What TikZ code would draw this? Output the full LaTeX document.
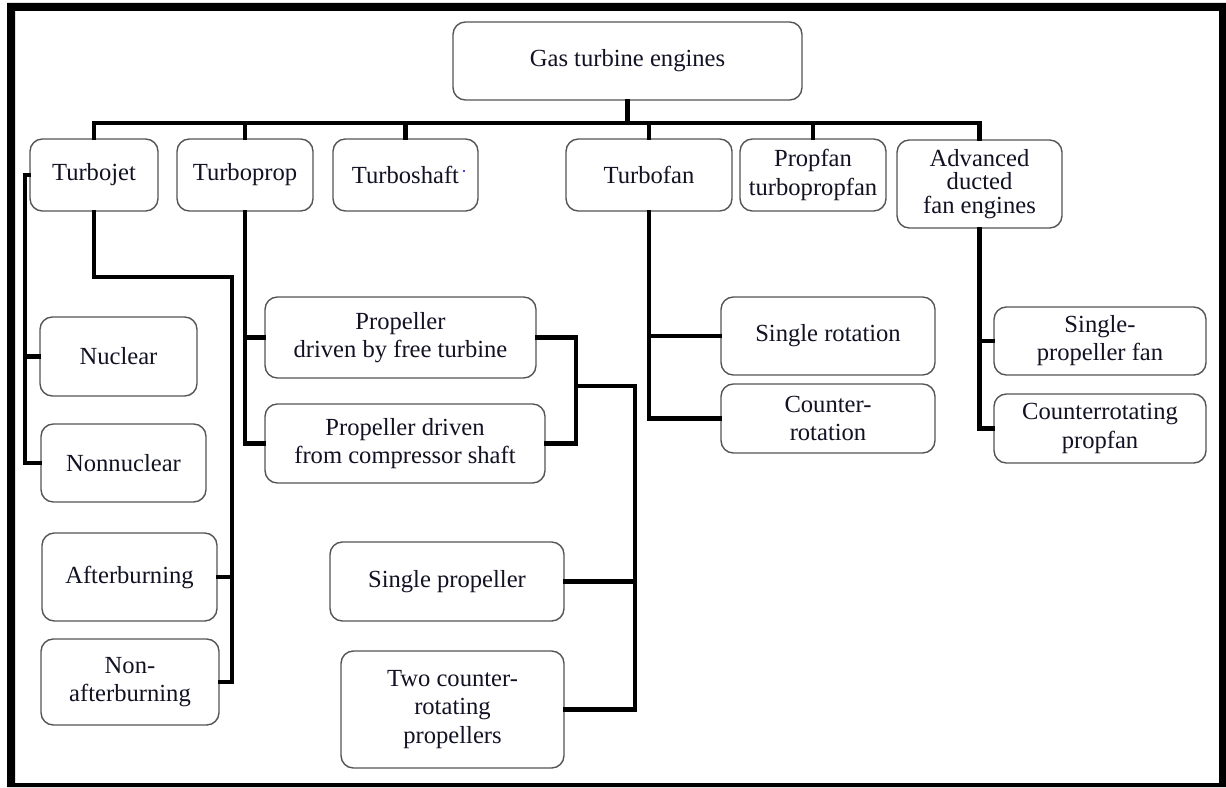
\documentclass[tikz,border=0pt]{standalone}
\usepackage{fontspec}
\setmainfont{Liberation Serif}
\usetikzlibrary{calc}
\definecolor{inkc}{rgb}{0.07,0.07,0.14}
\definecolor{edgec}{rgb}{0.33,0.33,0.33}
\tikzset{
  box/.style={draw=edgec, line width=0.8pt, rounded corners=7pt, fill=white,
    align=center, inner sep=0pt, text=inkc,
    font=\fontsize{14}{16}\selectfont},
  wire/.style={line width=2.4pt, line join=miter, line cap=rect},
}
\begin{document}
\begin{tikzpicture}[x=0.02cm, y=-0.02cm]
\useasboundingbox (0,0) rectangle (1226,787);
% heavy outer frame
\fill[black, even odd rule] (7,3) rectangle (1226,787) (15,11) rectangle (1219,783);

% top level
\node[box, minimum width=6.98cm, minimum height=1.56cm] (gas) at (627.5,61) {Gas turbine engines};

% first row of engine families
\node[box, minimum width=2.56cm, minimum height=1.44cm] (turbojet) at (94,175) {Turbojet};
\node[box, minimum width=2.72cm, minimum height=1.44cm] (turboprop) at (245,175) {Turboprop};
\node[box, minimum width=2.90cm, minimum height=1.44cm] (turboshaft) at (405.5,175) {Turboshaft};
\node[box, minimum width=3.32cm, minimum height=1.44cm] (turbofan) at (649,175) {Turbofan};
\node[box, minimum width=2.92cm, minimum height=1.44cm] (propfan) at (813,175) {Propfan\\turbopropfan};
\node[box, minimum width=3.30cm, minimum height=1.76cm, font=\fontsize{14}{13.3}\selectfont] (advanced) at (979.5,184) {Advanced\\ducted\\fan engines};
\fill[blue] (464,171) circle (0.7pt);

% turbojet variants
\node[box, minimum width=3.14cm, minimum height=1.58cm] (nuclear) at (118.5,356.5) {Nuclear};
\node[box, minimum width=3.30cm, minimum height=1.56cm] (nonnuclear) at (123.5,463) {Nonnuclear};
\node[box, minimum width=3.50cm, minimum height=1.76cm] (afterburning) at (129.5,577) {Afterburning};
\node[box, minimum width=3.56cm, minimum height=1.72cm] (nonafter) at (130,682) {Non-\\afterburning};

% turboprop variants
\node[box, minimum width=5.42cm, minimum height=1.62cm] (pdft) at (400.5,337.5) {Propeller\\driven by free turbine};
\node[box, minimum width=5.60cm, minimum height=1.58cm] (pdcs) at (405,443.5) {Propeller driven\\from compressor shaft};
\node[box, minimum width=4.68cm, minimum height=1.58cm] (singleprop) at (447,581.5) {Single propeller};
\node[box, minimum width=4.46cm, minimum height=2.34cm] (twocounter) at (452.5,709.5) {Two counter-\\rotating\\propellers};

% turbofan variants
\node[box, minimum width=4.28cm, minimum height=1.56cm] (singlerot) at (828,336) {Single rotation};
\node[box, minimum width=4.28cm, minimum height=1.38cm] (counterrot) at (828,418.5) {Counter-\\rotation};

% advanced ducted fan variants
\node[box, minimum width=4.24cm, minimum height=1.36cm] (spfan) at (1100,341) {Single-\\propeller fan};
\node[box, minimum width=4.24cm, minimum height=1.38cm] (crpropfan) at (1100,428.5) {Counterrotating\\propfan};

% junction points of the connector tree
\coordinate (bus) at (0,123);
\coordinate (jl) at (25,0);
\coordinate (jr) at (232,277);
\coordinate (pm) at (576,386);
\coordinate (pr) at (635,386);

% main bus
\draw[wire] (gas.south) -- (gas.south |- bus);
\draw[wire] (turbojet.north) -- (turbojet.north |- bus) -- (advanced.north |- bus) -- (advanced.north);
\foreach \n in {turboprop, turboshaft, turbofan, propfan}
  \draw[wire] (\n.north) -- (\n.north |- bus);

% turbojet: nuclear / nonnuclear
\draw[wire] (turbojet.west) -- (jl |- turbojet.west) -- (jl |- nonnuclear.west) -- (nonnuclear.west);
\draw[wire] (nuclear.west) -- (jl |- nuclear.west);

% turbojet: afterburning / non-afterburning
\draw[wire] (turbojet.south) -- (turbojet.south |- jr) -- (jr) -- (jr |- nonafter.east) -- (nonafter.east);
\draw[wire] (afterburning.east) -- (jr |- afterburning.east);

% turboprop: drive arrangement
\draw[wire] (turboprop.south) -- (turboprop.south |- pdcs.west) -- (pdcs.west);
\draw[wire] (pdft.west) -- (turboprop.south |- pdft.west);
\draw[wire] (pdft.east) -- (pm |- pdft.east) -- (pm |- pdcs.east) -- (pdcs.east);

% turboprop: propeller count
\draw[wire] (pm) -- (pr) -- (pr |- twocounter.east) -- (twocounter.east);
\draw[wire] (singleprop.east) -- (pr |- singleprop.east);

% turbofan
\draw[wire] (turbofan.south) -- (turbofan.south |- counterrot.west) -- (counterrot.west);
\draw[wire] (singlerot.west) -- (turbofan.south |- singlerot.west);

% advanced ducted fan engines
\draw[wire] (advanced.south) -- (advanced.south |- crpropfan.west) -- (crpropfan.west);
\draw[wire] (spfan.west) -- (advanced.south |- spfan.west);
\end{tikzpicture}
\end{document}
